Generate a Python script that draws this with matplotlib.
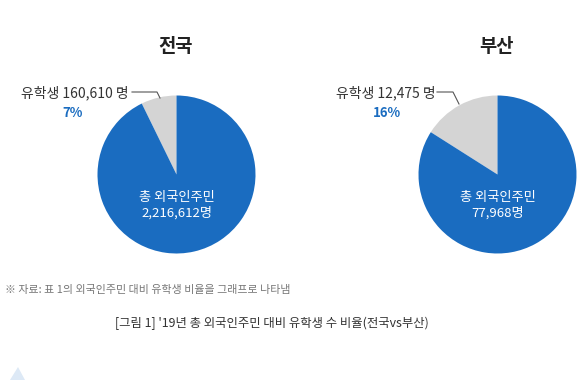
import matplotlib
matplotlib.use("Agg")
import matplotlib.pyplot as plt
from matplotlib.patches import Polygon

plt.rcParams['font.family'] = ['Noto Sans CJK KR', 'DejaVu Sans']

# Data
regions = ["전국", "부산"]
students = [160610, 12475]
totals = [2216612, 77968]
pct_labels = ["7%", "16%"]
student_labels = ["유학생 160,610 명", "유학생 12,475 명"]
total_labels = ["총 외국인주민\n2,216,612명", "총 외국인주민\n77,968명"]

BLUE = "#1a6cc0"
GRAY = "#d4d4d4"
TEXT = "#333333"

W, H = 580, 380
fig = plt.figure(figsize=(W / 100, H / 100), dpi=100)
ax = fig.add_axes([0, 0, 1, 1])

def Y(y):
    return H - y

centers = [(176.5, 174.5), (497.5, 174.5)]
radius = 79
title_x = [176, 497]
lab_pos = [(75, 93), (386, 93)]
pct_pos = [(73, 113), (387, 113)]
line_pts = [[(132, 92), (157, 92), (160, 98)],
            [(437, 92), (453, 92), (459, 104)]]

for i in range(2):
    cx, cy = centers[i]
    ax.pie([students[i], totals[i] - students[i]], colors=[GRAY, BLUE],
           startangle=90, counterclock=True, center=(cx, Y(cy)), radius=radius,
           wedgeprops=dict(linewidth=0), frame=True)
    ax.text(title_x[i], Y(47), regions[i], ha='center', va='center',
            fontsize=13.5, fontweight='bold', color='#222222')
    ax.text(lab_pos[i][0], Y(lab_pos[i][1]), student_labels[i], ha='center', va='center',
            fontsize=10, color=TEXT)
    ax.text(pct_pos[i][0], Y(pct_pos[i][1]), pct_labels[i], ha='center', va='center',
            fontsize=9.5, fontweight='bold', color=BLUE)
    xs = [p[0] for p in line_pts[i]]
    ys = [Y(p[1]) for p in line_pts[i]]
    ax.plot(xs, ys, color='#555555', lw=0.8)
    ax.text(cx, Y(205), total_labels[i], ha='center', va='center',
            fontsize=9.5, color='white', linespacing=1.25)

ax.set_xlim(0, W)
ax.set_ylim(0, H)
ax.set_aspect('equal')
ax.axis('off')

ax.text(5, Y(290), "※ 자료: 표 1의 외국인주민 대비 유학생 비율을 그래프로 나타냄",
        ha='left', va='center', fontsize=7.9, color='#777777')
ax.text(272, Y(323), "[그림 1] '19년 총 외국인주민 대비 유학생 수 비율(전국vs부산)",
        ha='center', va='center', fontsize=8.9, color='#333333')

ax.add_patch(Polygon([(10, Y(380)), (25, Y(380)), (18, Y(367))],
                     closed=True, color='#dde9f6', lw=0))

fig.savefig("out.png", dpi=100)
